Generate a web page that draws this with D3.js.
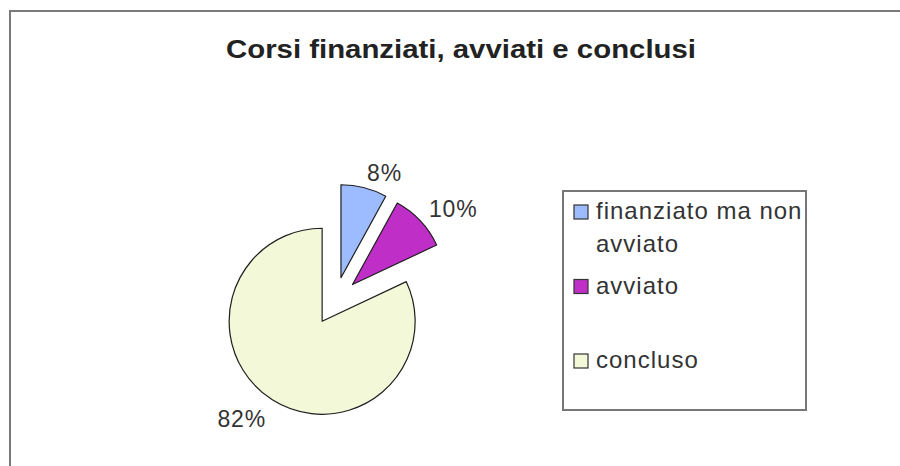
<!DOCTYPE html>
<html>
<head>
<meta charset="utf-8">
<script src="https://cdn.jsdelivr.net/npm/d3@7"></script>
<style>
  body { margin: 0; background: #fff; }
  svg { display: block; font-family: "Liberation Sans", Arial, sans-serif; }
</style>
</head>
<body>
<div id="chart"></div>
<script>
var title = "Corsi finanziati, avviati e conclusi";
var categories = ["finanziato ma non avviato", "avviato", "concluso"];
var values = [8, 10, 82];
var colors = ["#9dbbff", "#c02ec8", "#f3f9d8"];

var width = 900, height = 466;

var svg = d3.select("#chart").append("svg")
  .attr("width", width)
  .attr("height", height);

// chart area frame (runs off the right and bottom edges)
svg.append("rect")
  .attr("x", 10).attr("y", 11)
  .attr("width", width).attr("height", height)
  .attr("fill", "#fff")
  .attr("stroke", "#7a7a7a")
  .attr("stroke-width", 2);

svg.append("text")
  .attr("x", 461).attr("y", 58)
  .attr("text-anchor", "middle")
  .style("font-size", "26px")
  .style("font-weight", "bold")
  .attr("fill", "#222")
  .attr("textLength", 470)
  .attr("lengthAdjust", "spacingAndGlyphs")
  .text(title);

// pie
var cx = 335, cy = 301, radius = 93, explode = 24, labelGap = 12;

var data = categories.map(function(c, i) { return {name: c, value: values[i], color: colors[i]}; });
var total = d3.sum(values);

var pie = d3.pie().sort(null).value(function(d) { return d.value; });
var arc = d3.arc().innerRadius(0).outerRadius(radius);

var slices = pie(data);

var g = svg.append("g").attr("transform", "translate(" + cx + "," + cy + ")");

slices.forEach(function(s) {
  var mid = (s.startAngle + s.endAngle) / 2;
  s.dx = Math.sin(mid);
  s.dy = -Math.cos(mid);
  s.ox = explode * s.dx;
  s.oy = explode * s.dy;
});

g.selectAll(".slice")
  .data(slices)
  .enter().append("path")
  .attr("class", "slice")
  .attr("transform", function(d) { return "translate(" + d.ox + "," + d.oy + ")"; })
  .attr("d", arc)
  .attr("fill", function(d) { return d.data.color; })
  .attr("stroke", "#1e1e1e")
  .attr("stroke-width", 1.2)
  .attr("stroke-linejoin", "round");

g.selectAll(".plabel")
  .data(slices)
  .enter().append("text")
  .attr("class", "plabel")
  .attr("x", function(d) { return d.ox + (radius + labelGap) * d.dx; })
  .attr("y", function(d) { return d.oy + (radius + labelGap) * d.dy; })
  .attr("text-anchor", function(d) { return d.dx >= 0 ? "start" : "end"; })
  .attr("dy", function(d) { return d.dy < 0 ? "0.2em" : "0.75em"; })
  .style("font-size", "23px")
  .style("letter-spacing", "0.8px")
  .attr("fill", "#333")
  .text(function(d) { return Math.round(d.data.value / total * 100) + "%"; });

// legend
var lx = 563, ly = 191, lw = 243, lh = 219;
var legend = svg.append("g");
legend.append("rect")
  .attr("x", lx).attr("y", ly)
  .attr("width", lw).attr("height", lh)
  .attr("fill", "#fff")
  .attr("stroke", "#777")
  .attr("stroke-width", 2);

var slotH = 74.5, lineH = 33, textX = lx + 33;

data.forEach(function(d, i) {
  var base = ly + 28 + i * slotH;
  legend.append("rect")
    .attr("x", lx + 11).attr("y", base - 14)
    .attr("width", 14).attr("height", 14)
    .attr("fill", d.color)
    .attr("stroke", "#333")
    .attr("stroke-width", 1.2);
  var t = legend.append("text")
    .attr("x", textX).attr("y", base)
    .style("font-size", "24px")
    .style("letter-spacing", "1px")
    .attr("fill", "#333");
  // simple word wrap inside the legend box
  var words = d.name.split(" "), line = [], lineNo = 0;
  var tspan = t.append("tspan").attr("x", textX).attr("y", base);
  words.forEach(function(w) {
    line.push(w);
    tspan.text(line.join(" "));
    if (tspan.node().getComputedTextLength() > lx + lw - textX && line.length > 1) {
      line.pop();
      tspan.text(line.join(" "));
      line = [w];
      lineNo++;
      tspan = t.append("tspan").attr("x", textX).attr("y", base + lineNo * lineH).text(w);
    }
  });
});
</script>
</body>
</html>
